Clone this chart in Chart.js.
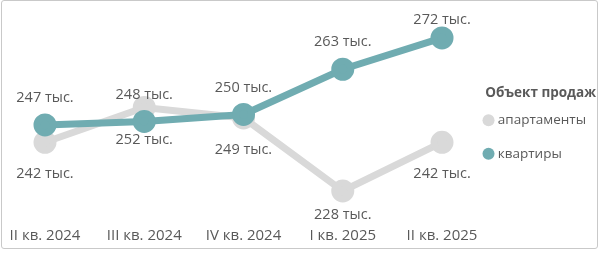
<!DOCTYPE html>
<html>
<head>
<meta charset="utf-8">
<script src="https://cdn.jsdelivr.net/npm/chart.js@4"></script>
<style>
  html, body { margin: 0; padding: 0; background: #fff; }
  #box {
    position: absolute; left: 1px; top: 0px;
    width: 595px; height: 247px;
    border: 1px solid #c9c9c9; border-radius: 3px;
    background: #fff;
  }
  #c { display: block; }
</style>
</head>
<body>
<div id="box"><canvas id="c" width="595" height="247"></canvas></div>
<script>
const quarters = ['II кв. 2024', 'III кв. 2024', 'IV кв. 2024', 'I кв. 2025', 'II кв. 2025'];
const flats = [247, 248, 250, 263, 272];        // квартиры
const apartments = [242, 252, 249, 228, 242];   // апартаменты
const unit = ' тыс.';

const teal = '#70acb1';
const grey = '#d9d9d9';
const textColor = '#595959';
const fontFamily = '"Open Sans", sans-serif';

// simple value labels: teal above, grey below, kept inside the plot
const valueLabels = {
  id: 'valueLabels',
  afterDatasetsDraw(chart) {
    const ctx = chart.ctx;
    ctx.save();
    ctx.font = '14.5px ' + fontFamily;
    ctx.fillStyle = textColor;
    ctx.textAlign = 'center';
    ctx.textBaseline = 'middle';
    chart.data.datasets.forEach((ds, i) => {
      const meta = chart.getDatasetMeta(i);
      const dy = ds.labelAbove ? -27 : 32;
      meta.data.forEach((pt, j) => {
        const y = Math.min(Math.max(pt.y + dy, 19), 214);
        ctx.fillText(ds.data[j] + unit, pt.x, y);
      });
    });
    ctx.restore();
  }
};

new Chart(document.getElementById('c'), {
  type: 'line',
  data: {
    labels: quarters,
    datasets: [
      {
        label: 'квартиры',
        data: flats,
        borderColor: teal,
        backgroundColor: teal,
        pointBackgroundColor: teal,
        pointBorderColor: teal,
        borderWidth: 7,
        pointRadius: 8,
        pointHoverRadius: 8,
        clip: false,
        labelAbove: true
      },
      {
        label: 'апартаменты',
        data: apartments,
        borderColor: grey,
        backgroundColor: grey,
        pointBackgroundColor: grey,
        pointBorderColor: grey,
        borderWidth: 7,
        pointRadius: 8,
        pointHoverRadius: 8,
        clip: false,
        labelAbove: false
      }
    ]
  },
  options: {
    responsive: false,
    animation: false,
    layout: { autoPadding: false, padding: { left: 43, right: 1, top: 10, bottom: 0 } },
    scales: {
      x: {
        offset: false,
        grid: { display: false, drawTicks: false },
        border: { display: false },
        ticks: { color: textColor, font: { family: fontFamily, size: 15 }, padding: 3, maxRotation: 0 }
      },
      y: {
        position: 'right',
        min: 218.5,
        max: 279.75,
        grid: { display: false, drawTicks: false },
        border: { display: false },
        ticks: { display: false },
        afterFit(scale) { scale.width = 24; }
      }
    },
    plugins: {
      tooltip: { enabled: false },
      legend: {
        position: 'right',
        reverse: true,
        title: {
          display: true,
          text: 'Объект продаж',
          position: 'end',
          color: textColor,
          font: { family: fontFamily, size: 13.5, weight: 'bold' },
          padding: { top: 8, bottom: -9 }
        },
        labels: {
          usePointStyle: true,
          pointStyle: 'circle',
          boxWidth: 5,
          boxHeight: 8.5,
          padding: 20,
          color: textColor,
          font: { family: fontFamily, size: 13.5 },
          generateLabels(chart) {
            const items = Chart.defaults.plugins.legend.labels.generateLabels(chart);
            items.forEach(it => { it.lineWidth = 0; });
            return items;
          }
        }
      }
    }
  },
  plugins: [valueLabels]
});
</script>
</body>
</html>
